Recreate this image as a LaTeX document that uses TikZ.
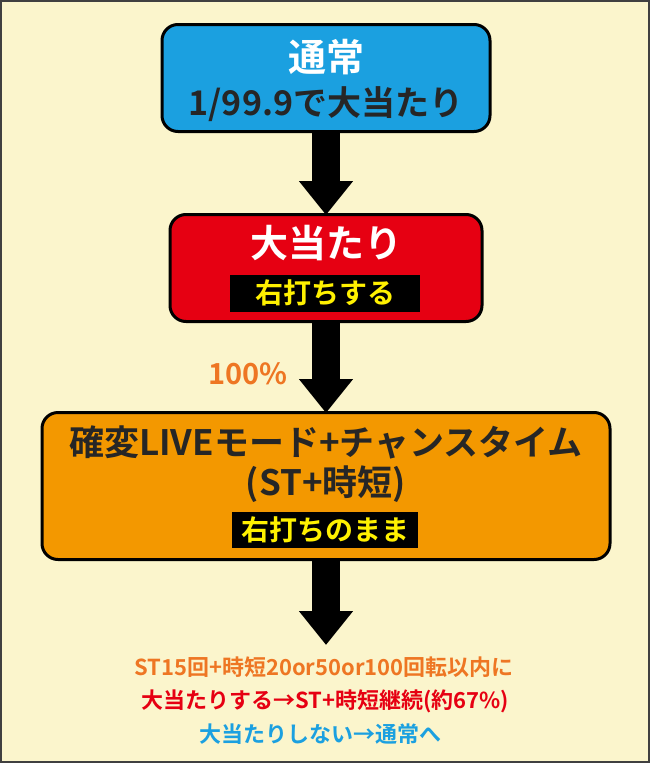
\documentclass[tikz,border=0pt]{standalone}
\usepackage{fontspec}
\setmainfont{Noto Sans CJK JP}[BoldFont={Noto Sans CJK JP Bold}]
\usetikzlibrary{positioning, arrows.meta}
\definecolor{paper}{RGB}{251,245,204}
\definecolor{normalblue}{RGB}{27,160,224}
\definecolor{hitred}{RGB}{230,0,18}
\definecolor{storange}{RGB}{243,152,0}
\definecolor{txtorange}{RGB}{238,118,35}
\definecolor{tagyellow}{RGB}{255,241,0}
\tikzset{
x=1pt, y=-1pt,
stage/.style={draw=black, line width=3pt, rounded corners=16pt}, % the three big boxes
tag/.style={fill=black, text=tagyellow, font=\bfseries\fontsize{28}{30}\selectfont, inner sep=0pt}, % black label strip
flow/.style={line width=28pt, -{Triangle[width=52pt, length=34pt]}}, % fat black arrows
note/.style={font=\bfseries\fontsize{22}{24}\selectfont},
}
\begin{document}
\begin{tikzpicture}
      \fill[paper] (0,0) rectangle (650,763);
      \draw[black!75, line width=2pt] (1,1) rectangle (649,762);
      \useasboundingbox (0,0) rectangle (650,763);

      \node[stage, fill=normalblue, minimum width=328pt, minimum height=107pt] (normal) at (326,78) {};
      \node[white, font=\bfseries\fontsize{38}{40}\selectfont] (normaltitle) at (326,57) {通常};
      \node[black!85, font=\bfseries\fontsize{34}{36}\selectfont] (normalodds) at (326,104) {1/99.9で大当たり};

      \node[stage, fill=hitred, minimum width=312pt, minimum height=107pt] (hit) at (326,268) {};
      \node[white, font=\bfseries\fontsize{38}{40}\selectfont] (hittitle) at (326,243) {大当たり};
      \node[tag, minimum width=190pt, minimum height=37pt] (hittag) at (325,293) {右打ちする};

      \node[stage, fill=storange, minimum width=568pt, minimum height=147pt] (st) at (326,486) {};
      \node[black!85, font=\bfseries\fontsize{35}{37}\selectfont] (sttitle) at (326,442) {確変LIVEモード+チャンスタイム};
      \node[black!85, font=\bfseries\fontsize{35}{37}\selectfont] (stsub) at (326,484) {(ST+時短)};
      \node[tag, minimum width=186pt, minimum height=36pt] (sttag) at (325,530) {右打ちのまま};

      \node[txtorange, font=\bfseries\fontsize{29}{31}\selectfont] (rate) at (248,374) {100\%};

      \coordinate (end) at (326,645);
      \draw[flow] (normal.south) -- ([yshift=-2pt]hit.north);
      \draw[flow] (hit.south) -- ([yshift=-2pt]st.north);
      \draw[flow] (st.south) -- (end);

      \node[note, txtorange] (line1) at (324,667) {ST15回+時短20or50or100回転以内に};
      \node[note, hitred] (line2) at (325,701) {大当たりする→ST+時短継続(約67\%)};
      \node[note, normalblue] (line3) at (320,734) {大当たりしない→通常へ};
\end{tikzpicture}
\end{document}
